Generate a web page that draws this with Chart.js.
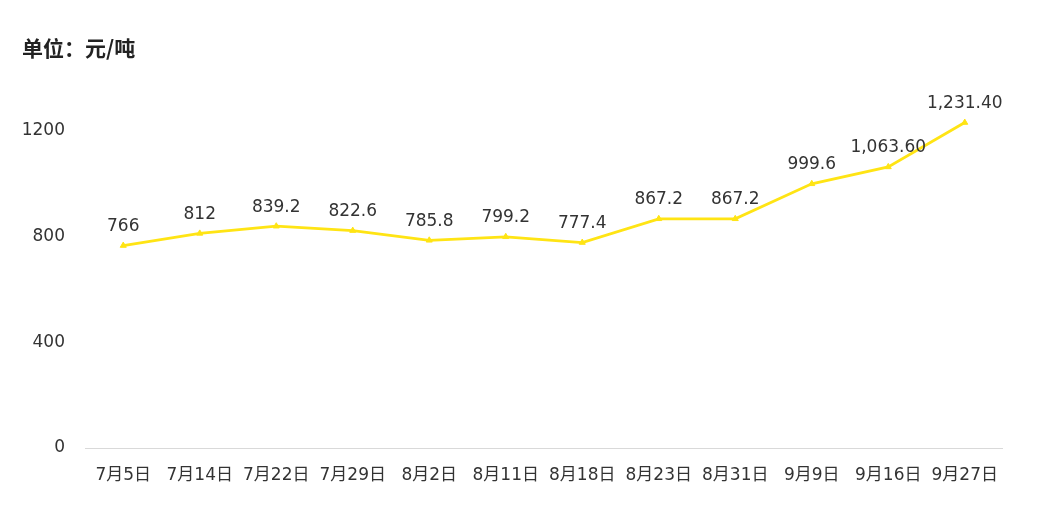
<!DOCTYPE html>
<html>
<head>
<meta charset="utf-8">
<script src="https://cdn.jsdelivr.net/npm/chart.js@4"></script>
<style>
  html, body { margin: 0; padding: 0; background: #fff; }
  #wrap { position: relative; width: 1037px; height: 511px; }
  #unit { position: absolute; left: 22px; top: 35px; font: 600 21px "Noto Sans CJK SC", sans-serif; color: #222; line-height: 24px; }
</style>
</head>
<body>
<div id="wrap">
  <div id="unit">单位：元/吨</div>
  <canvas id="priceChart" width="1037" height="511"></canvas>
</div>
<script>
const dates = ["7月5日", "7月14日", "7月22日", "7月29日", "8月2日", "8月11日", "8月18日", "8月23日", "8月31日", "9月9日", "9月16日", "9月27日"];
const prices = [766, 812, 839.2, 822.6, 785.8, 799.2, 777.4, 867.2, 867.2, 999.6, 1063.6, 1231.4];
const priceLabels = ["766", "812", "839.2", "822.6", "785.8", "799.2", "777.4", "867.2", "867.2", "999.6", "1,063.60", "1,231.40"];
const yTicks = [0, 400, 800, 1200];

const fontFamily = '"DejaVu Sans", "Noto Sans CJK SC", sans-serif';

// draw the value text above each point
const valueLabels = {
  id: "valueLabels",
  afterDatasetsDraw(chart) {
    const ctx = chart.ctx;
    const meta = chart.getDatasetMeta(0);
    ctx.save();
    ctx.font = "17px " + fontFamily;
    ctx.fillStyle = "#333";
    ctx.textAlign = "center";
    ctx.textBaseline = "middle";
    meta.data.forEach((pt, i) => {
      ctx.fillText(priceLabels[i], pt.x, pt.y - 19);
    });
    ctx.restore();
  }
};

const chart = new Chart(document.getElementById("priceChart"), {
  type: "line",
  data: {
    labels: dates,
    datasets: [{
      data: prices,
      borderColor: "#FFE414",
      backgroundColor: "#FFE414",
      borderWidth: 2.8,
      pointStyle: "triangle",
      pointRadius: 3.5,
      pointBorderWidth: 1,
      tension: 0
    }]
  },
  options: {
    responsive: false,
    animation: false,
    layout: { padding: { top: 78, right: 34, bottom: 20, left: 0 } },
    plugins: { legend: { display: false }, tooltip: { enabled: false } },
    scales: {
      x: {
        offset: true,
        grid: { display: false },
        border: { display: false },
        ticks: { color: "#333", font: { family: fontFamily, size: 17 }, padding: 9, maxRotation: 0, autoSkip: false },
        afterFit(scale) { scale.height = 43; }
      },
      y: {
        min: 0,
        max: 1400,
        afterBuildTicks(scale) { scale.ticks = yTicks.concat([1400]).map(v => ({ value: v })); },
        grid: {
          color: ctx => ctx.tick && ctx.tick.value === 0 ? "#d9d9d9" : "rgba(0,0,0,0)",
          drawTicks: false
        },
        border: { display: false },
        ticks: {
          color: "#333",
          font: { family: fontFamily, size: 17 },
          padding: 20,
          callback: v => yTicks.includes(v) ? String(v) : ""
        },
        afterFit(scale) { scale.width = 85; }
      }
    }
  },
  plugins: [valueLabels]
});
</script>
</body>
</html>
